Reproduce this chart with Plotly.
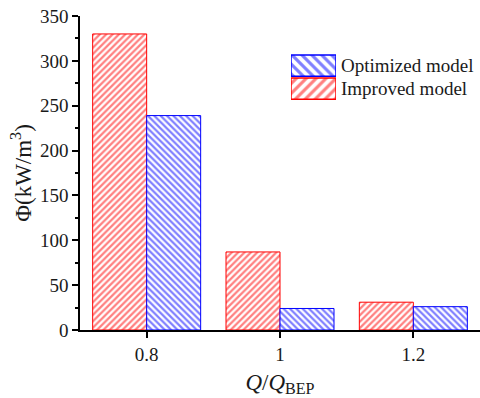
import plotly.graph_objects as go

flow_ratio = ["0.8", "1", "1.2"]
improved = [330, 87, 31]
optimized = [239, 24, 26]

legend_names = ["Improved model", "Optimized model"]

FONT = "Liberation Serif, Times New Roman, serif"
RED, BLUE = "#ff0000", "#0000ff"
FS = 19

fig = go.Figure()
fig.add_trace(go.Bar(
    x=flow_ratio, y=improved, name="Improved model",
    marker=dict(color="white", line=dict(color=RED, width=1),
                pattern=dict(shape="/", fgcolor=RED, bgcolor="white",
                             size=4.5, solidity=0.5)),
))
fig.add_trace(go.Bar(
    x=flow_ratio, y=optimized, name="Optimized model",
    marker=dict(color="white", line=dict(color=BLUE, width=1),
                pattern=dict(shape="\\", fgcolor=BLUE, bgcolor="white",
                             size=4.5, solidity=0.5)),
))

# key drawn as a small hatched panel, one swatch per series
fig.add_trace(go.Bar(
    y=legend_names, x=[1, 1], orientation="h",
    xaxis="x2", yaxis="y2", hoverinfo="skip", width=0.92,
    marker=dict(color="white", line=dict(color=[RED, BLUE], width=1.5),
                pattern=dict(shape=["/", "\\"], fgcolor=[RED, BLUE],
                             bgcolor="white", size=7, solidity=0.45)),
))

key_x1 = 0.64
key_rows = [0.732 + 0.147 * 0.25, 0.732 + 0.147 * 0.75]
annotations = [
    dict(text=name, xref="paper", yref="paper", x=key_x1 + 0.008, y=yy,
         xanchor="left", yanchor="middle", showarrow=False,
         font=dict(family=FONT, size=FS, color="#1a1a1a"))
    for name, yy in zip(legend_names, key_rows)
]

fig.update_layout(
    width=480, height=398,
    margin=dict(l=80, r=0, t=16, b=68),
    paper_bgcolor="white", plot_bgcolor="white",
    barmode="group", bargap=0.19, bargroupgap=0,
    font=dict(family=FONT, size=FS, color="#1a1a1a"),
    showlegend=False,
    annotations=annotations,
    xaxis=dict(
        type="category", range=[-0.5, 2.5],
        showline=True, linecolor="black", linewidth=1.5,
        ticks="outside", ticklen=6, tickcolor="black", tickwidth=1.5,
        showgrid=False, zeroline=False,
        title=dict(text="<i>Q</i>/<i>Q</i><sub>BEP</sub>", standoff=10),
    ),
    yaxis=dict(
        range=[0, 350], dtick=50,
        showline=True, linecolor="black", linewidth=1.5,
        ticks="outside", ticklen=6, tickcolor="black", tickwidth=1.5,
        minor=dict(dtick=25, ticks="outside", ticklen=3, tickcolor="black"),
        showgrid=False, zeroline=False,
        title=dict(text="Φ(kW/m<sup>3</sup>)", standoff=2),
    ),
    xaxis2=dict(domain=[0.5275, key_x1], range=[0, 1], anchor="y2",
                visible=False, fixedrange=True),
    yaxis2=dict(domain=[0.732, 0.879], anchor="x2", type="category",
                visible=False, fixedrange=True),
)

fig.write_html("out.html")
